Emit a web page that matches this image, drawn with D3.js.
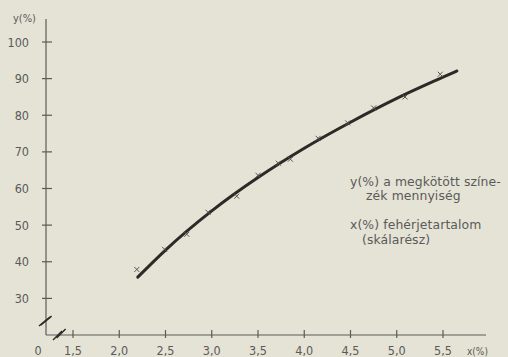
<!DOCTYPE html>
<html>
<head>
<meta charset="utf-8">
<script src="https://cdn.jsdelivr.net/npm/d3@7"></script>
<style>
  html, body { margin: 0; padding: 0; background: #e5e3d6; }
  svg { display: block; font-family: "DejaVu Sans Condensed", "DejaVu Sans", sans-serif; }
</style>
</head>
<body>
<div id="chart"></div>
<script>
// measured points (crosses)
var pointX = [2.19, 2.49, 2.73, 2.96, 3.27, 3.50, 3.72, 3.85, 4.15, 4.47, 4.75, 5.09, 5.47];
var pointY = [37.9, 43.4, 47.5, 53.5, 57.9, 63.6, 66.9, 68.0, 73.7, 77.9, 82.0, 85.0, 91.2];

// fitted curve
var curveX = [2.2, 2.5, 3.0, 3.5, 4.0, 4.5, 5.0, 5.5, 5.65];
var curveY = [35.8, 43.2, 53.9, 63.0, 71.0, 78.1, 84.6, 90.4, 92.1];

var xTicks = [1.5, 2.0, 2.5, 3.0, 3.5, 4.0, 4.5, 5.0, 5.5];
var yTicks = [30, 40, 50, 60, 70, 80, 90, 100];

var noteLines = ["y(%) a megkötött színe-", "zék mennyiség", "x(%) fehérjetartalom", "(skálarész)"];

var W = 508, H = 357,
    ox = 46, oy = 335,
    ink = "#5a5a58", line = "#2b2a27";

var svg = d3.select("#chart").append("svg")
  .attr("width", W)
  .attr("height", H);

var x = d3.scaleLinear().domain([1.5, 5.5]).range([73, 443]);
var y = d3.scaleLinear().domain([20, 100]).range([oy, 42]);

var fmt = function(d) { return d3.format(".1f")(d).replace(".", ","); };

// axes lines
svg.append("line")
  .attr("x1", ox).attr("x2", ox)
  .attr("y1", 19).attr("y2", oy)
  .attr("stroke", ink).attr("stroke-width", 1.2);
svg.append("line")
  .attr("x1", ox).attr("x2", 486)
  .attr("y1", oy).attr("y2", oy)
  .attr("stroke", ink).attr("stroke-width", 1.2);

// y ticks
var yt = svg.append("g").selectAll("g").data(yTicks).enter().append("g");
yt.append("line")
  .attr("x1", ox - 4).attr("x2", ox + 6)
  .attr("y1", function(d) { return y(d); })
  .attr("y2", function(d) { return y(d); })
  .attr("stroke", ink).attr("stroke-width", 1.2);
yt.append("text")
  .attr("x", 29)
  .attr("y", function(d) { return y(d) + 4.5; })
  .attr("text-anchor", "end")
  .attr("font-size", 12.5)
  .attr("fill", ink)
  .text(function(d) { return d; });

// x ticks
var xt = svg.append("g").selectAll("g").data(xTicks).enter().append("g");
xt.append("line")
  .attr("x1", function(d) { return x(d); })
  .attr("x2", function(d) { return x(d); })
  .attr("y1", oy - 5).attr("y2", oy + 3)
  .attr("stroke", ink).attr("stroke-width", 1.2);
xt.append("text")
  .attr("x", function(d) { return x(d); })
  .attr("y", 355)
  .attr("text-anchor", "middle")
  .attr("font-size", 12.5)
  .attr("fill", ink)
  .text(fmt);

svg.append("text")
  .attr("x", 38).attr("y", 355)
  .attr("text-anchor", "middle")
  .attr("font-size", 12.5)
  .attr("fill", ink)
  .text("0");

// axis titles
svg.append("text")
  .attr("x", 13).attr("y", 22)
  .attr("font-size", 11)
  .attr("fill", ink)
  .text("y(%)");
svg.append("text")
  .attr("x", 467).attr("y", 355)
  .attr("font-size", 10)
  .attr("fill", ink)
  .text("x(%)");

// axis breaks
[0, 4].forEach(function(o) {
  svg.append("line")
    .attr("x1", 39 + o * 0.4).attr("y1", 326 - o * 0.2)
    .attr("x2", 50 + o * 0.4).attr("y2", 317 - o * 0.2)
    .attr("stroke", line).attr("stroke-width", 1.5);
  svg.append("line")
    .attr("x1", 53 + o * 0.9).attr("y1", 340 - o * 0.5)
    .attr("x2", 62 + o * 0.9).attr("y2", 331 - o * 0.5)
    .attr("stroke", line).attr("stroke-width", 1.5);
});

// fitted curve
var curveData = curveX.map(function(d, i) { return [d, curveY[i]]; });
svg.append("path")
  .datum(curveData)
  .attr("fill", "none")
  .attr("stroke", line)
  .attr("stroke-width", 3)
  .attr("stroke-linecap", "round")
  .attr("d", d3.line()
    .x(function(d) { return x(d[0]); })
    .y(function(d) { return y(d[1]); })
    .curve(d3.curveMonotoneX));

// crosses
var pts = pointX.map(function(d, i) { return [d, pointY[i]]; });
svg.append("g").selectAll("path").data(pts).enter().append("path")
  .attr("transform", function(d) { return "translate(" + x(d[0]) + "," + y(d[1]) + ")"; })
  .attr("d", "M-2.5,-2.5L2.5,2.5M-2.5,2.5L2.5,-2.5")
  .attr("stroke", "#555")
  .attr("stroke-width", 1);

// note
var notePos = [[350, 186], [366, 200], [350, 229], [362, 244]];
svg.append("g").selectAll("text").data(noteLines).enter().append("text")
  .attr("x", function(d, i) { return notePos[i][0]; })
  .attr("y", function(d, i) { return notePos[i][1]; })
  .attr("font-family", "DejaVu Sans, sans-serif")
  .attr("font-size", 12.4)
  .attr("letter-spacing", 0.1)
  .attr("fill", ink)
  .text(function(d) { return d; });
</script>
</body>
</html>
